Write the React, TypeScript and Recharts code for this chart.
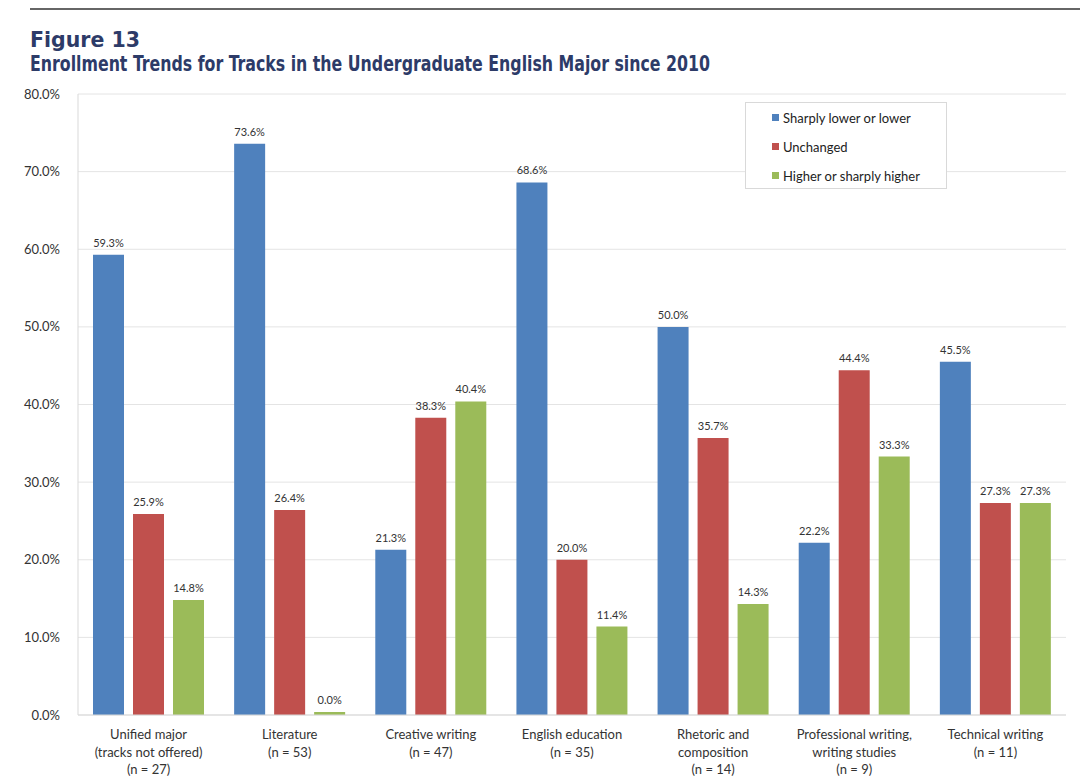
import React from 'react';
import {
  BarChart, Bar, XAxis, YAxis, CartesianGrid, Legend, LabelList
} from 'recharts';

const categories = [
  'Unified major\n(tracks not offered)\n(n = 27)',
  'Literature\n(n = 53)',
  'Creative writing\n(n = 47)',
  'English education\n(n = 35)',
  'Rhetoric and\ncomposition\n(n = 14)',
  'Professional writing,\nwriting studies\n(n = 9)',
  'Technical writing\n(n = 11)',
];
const lowerValues = [59.3, 73.6, 21.3, 68.6, 50.0, 22.2, 45.5];
const unchangedValues = [25.9, 26.4, 38.3, 20.0, 35.7, 44.4, 27.3];
const higherValues = [14.8, 0.0, 40.4, 11.4, 14.3, 33.3, 27.3];
const yTicks = [0, 10, 20, 30, 40, 50, 60, 70, 80];

const seriesInfo = [
  { key: 'lower', name: 'Sharply lower or lower', color: '#4f81bd' },
  { key: 'unchanged', name: 'Unchanged', color: '#c0504d' },
  { key: 'higher', name: 'Higher or sharply higher', color: '#9bbb59' },
];

const data = categories.map((cat, i) => ({
  cat,
  lower: lowerValues[i],
  unchanged: unchangedValues[i],
  higher: higherValues[i],
}));

const FONT = 'Lato, "Noto Sans", sans-serif';
const TITLE_FONT = '"Liberation Sans Narrow", "DejaVu Sans Condensed", Roboto, sans-serif';
const pct = (v: any) => `${Number(v).toFixed(1)}%`;

const XTick = ({ x, y, payload }: any) => {
  const lines = String(payload.value).split('\n');
  return (
    <text x={x} y={y} textAnchor="middle" fill="#333" fontSize={13} fontFamily={FONT}>
      {lines.map((ln, i) => (
        <tspan key={i} x={x} dy={i === 0 ? 16 : 17.5}>{ln}</tspan>
      ))}
    </text>
  );
};

const LegendBox = () => (
  <div style={{
    border: '1px solid #d9d9d9', background: '#fff', height: 87, boxSizing: 'border-box',
    fontFamily: FONT, fontSize: 13, color: '#222',
  }}>
    {seriesInfo.map((s) => (
      <div key={s.key} style={{ height: 29, display: 'flex', alignItems: 'center', paddingLeft: 26 }}>
        <span style={{ width: 7, height: 7, background: s.color, display: 'inline-block', marginRight: 4 }} />
        {s.name}
      </div>
    ))}
  </div>
);

export default function App() {
  return (
    <div style={{ position: 'absolute', left: 0, top: 0, width: 1080, height: 784, background: '#fff' }}>
      <div style={{ position: 'absolute', left: 30, top: 8, width: 1050, height: 2, background: '#666' }} />
      <svg width={1080} height={90} style={{ position: 'absolute', left: 0, top: 0 }}>
        <text x={30} y={47} fontFamily={TITLE_FONT} fontWeight={700} fontSize={22}
          fill="#2d3b68" textLength={110} lengthAdjust="spacingAndGlyphs">Figure 13</text>
        <text x={30} y={71} fontFamily={TITLE_FONT} fontWeight={700} fontSize={22}
          fill="#2d3b68" textLength={680} lengthAdjust="spacingAndGlyphs">
          Enrollment Trends for Tracks in the Undergraduate English Major since 2010
        </text>
      </svg>
      <div style={{ position: 'absolute', left: 0, top: 0 }}>
        <BarChart
          width={1080}
          height={784}
          data={data}
          margin={{ top: 94, right: 14, bottom: 9, left: 0 }}
          barGap={9}
          barSize={31}
        >
          <CartesianGrid vertical={false} stroke="#e4e4e4" />
          <XAxis
            dataKey="cat"
            interval={0}
            height={60}
            axisLine={{ stroke: '#d9d9d9' }}
            tickLine={false}
            tick={<XTick />}
          />
          <YAxis
            width={78}
            domain={[0, 80]}
            ticks={yTicks}
            tickFormatter={pct}
            axisLine={{ stroke: '#d9d9d9' }}
            tickLine={false}
            tickMargin={12}
            tick={{ fontSize: 13, fill: '#333', fontFamily: FONT }}
          />
          <Legend
            layout="horizontal"
            verticalAlign="middle"
            content={<LegendBox />}
            wrapperStyle={{ position: 'absolute', left: 745, top: 102, width: 202 }}
          />
          {seriesInfo.map((s) => (
            <Bar
              key={s.key}
              dataKey={s.key}
              name={s.name}
              fill={s.color}
              minPointSize={s.key === 'higher' ? 3 : 0}
              isAnimationActive={false}
            >
              <LabelList
                dataKey={s.key}
                position="top"
                offset={8}
                formatter={pct}
                style={{ fontSize: 11, fill: '#333', fontFamily: FONT }}
              />
            </Bar>
          ))}
        </BarChart>
      </div>
    </div>
  );
}
